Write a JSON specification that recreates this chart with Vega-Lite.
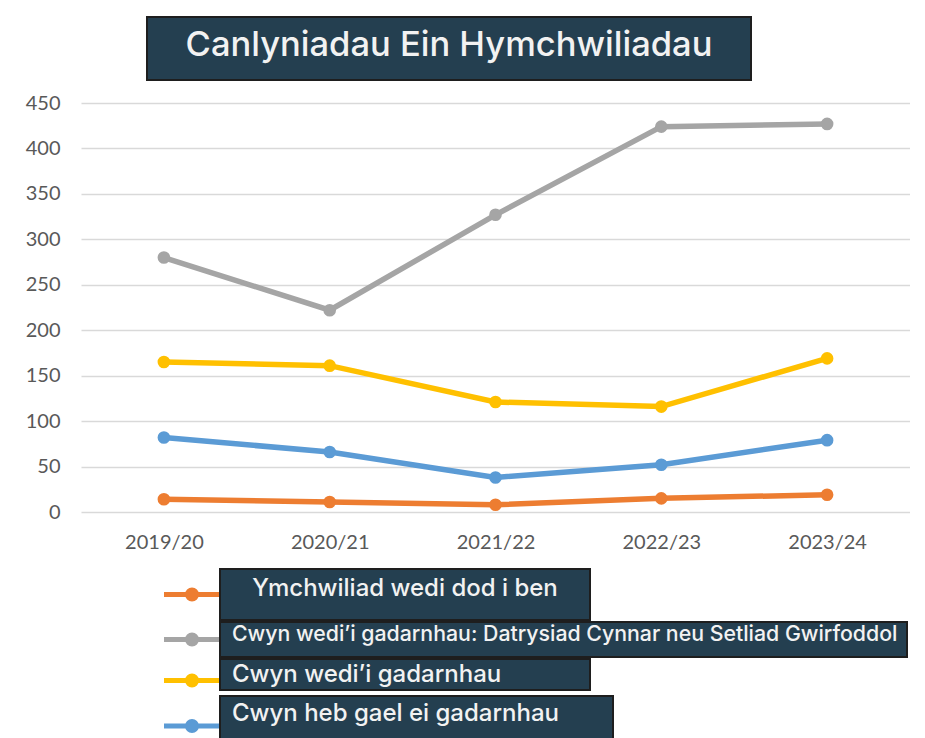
{
  "$schema": "https://vega.github.io/schema/vega-lite/v6.json",
  "background": "white",
  "padding": {"left": 25, "top": 16, "right": 0, "bottom": 0},
  "config": {
    "view": {"stroke": null},
    "font": "Inter"
  },
  "spacing": 0,
  "vconcat": [
    {
      "spacing": 0,
      "bounds": "flush",
      "hconcat": [
        {
          "width": 66, "height": 63,
          "data": {"values": [{"label": ""}]},
          "mark": {"type": "text"},
          "encoding": {"text": {"field": "label"}}
        },
        {
          "width": 604, "height": 63,
          "view": {"fill": "#243F50", "stroke": "#1E1E1E", "strokeWidth": 2},
          "data": {"values": [{"label": "Canlyniadau Ein Hymchwiliadau"}]},
          "mark": {"type": "text", "font": "Inter", "fontSize": 34.5, "fontWeight": 500, "color": "#F2F2F2", "baseline": "alphabetic", "align": "center", "dy": 7},
          "encoding": {"text": {"field": "label"}}
        }
      ]
    },
    {
      "width": 1, "height": 12,
      "data": {"values": [{"label": ""}]},
      "mark": {"type": "text"},
      "encoding": {"text": {"field": "label"}}
    },
    {
      "width": 829,
      "height": 409,
      "data": {
        "values": [
          {"year": "2019/20", "series": "Ymchwiliad wedi dod i ben", "value": 14},
          {"year": "2020/21", "series": "Ymchwiliad wedi dod i ben", "value": 11},
          {"year": "2021/22", "series": "Ymchwiliad wedi dod i ben", "value": 8},
          {"year": "2022/23", "series": "Ymchwiliad wedi dod i ben", "value": 15},
          {"year": "2023/24", "series": "Ymchwiliad wedi dod i ben", "value": 19},
          {"year": "2019/20", "series": "Cwyn wedi’i gadarnhau: Datrysiad Cynnar neu Setliad Gwirfoddol", "value": 280},
          {"year": "2020/21", "series": "Cwyn wedi’i gadarnhau: Datrysiad Cynnar neu Setliad Gwirfoddol", "value": 222},
          {"year": "2021/22", "series": "Cwyn wedi’i gadarnhau: Datrysiad Cynnar neu Setliad Gwirfoddol", "value": 327},
          {"year": "2022/23", "series": "Cwyn wedi’i gadarnhau: Datrysiad Cynnar neu Setliad Gwirfoddol", "value": 424},
          {"year": "2023/24", "series": "Cwyn wedi’i gadarnhau: Datrysiad Cynnar neu Setliad Gwirfoddol", "value": 427},
          {"year": "2019/20", "series": "Cwyn wedi’i gadarnhau", "value": 165},
          {"year": "2020/21", "series": "Cwyn wedi’i gadarnhau", "value": 161},
          {"year": "2021/22", "series": "Cwyn wedi’i gadarnhau", "value": 121},
          {"year": "2022/23", "series": "Cwyn wedi’i gadarnhau", "value": 116},
          {"year": "2023/24", "series": "Cwyn wedi’i gadarnhau", "value": 169},
          {"year": "2019/20", "series": "Cwyn heb gael ei gadarnhau", "value": 82},
          {"year": "2020/21", "series": "Cwyn heb gael ei gadarnhau", "value": 66},
          {"year": "2021/22", "series": "Cwyn heb gael ei gadarnhau", "value": 38},
          {"year": "2022/23", "series": "Cwyn heb gael ei gadarnhau", "value": 52},
          {"year": "2023/24", "series": "Cwyn heb gael ei gadarnhau", "value": 79}
        ]
      },
      "mark": {"type": "line", "strokeWidth": 5.5, "point": {"filled": true, "size": 160}},
      "encoding": {
        "x": {
          "field": "year", "type": "ordinal",
          "scale": {"type": "point", "padding": 0.5},
          "axis": {"title": null, "domain": false, "ticks": false, "grid": false, "labelAngle": 0,
                   "labelFont": "Lato", "labelFontSize": 20, "labelColor": "#595959", "labelPadding": 20}
        },
        "y": {
          "field": "value", "type": "quantitative",
          "scale": {"domain": [0, 450], "nice": false},
          "axis": {"title": null, "domain": false, "ticks": false,
                   "values": [0, 50, 100, 150, 200, 250, 300, 350, 400, 450],
                   "gridColor": "#D9D9D9", "gridWidth": 1.5,
                   "labelFont": "Lato", "labelFontSize": 20, "labelColor": "#595959", "labelPadding": 21}
        },
        "color": {
          "field": "series", "type": "nominal",
          "scale": {
            "domain": ["Ymchwiliad wedi dod i ben", "Cwyn wedi’i gadarnhau: Datrysiad Cynnar neu Setliad Gwirfoddol", "Cwyn wedi’i gadarnhau", "Cwyn heb gael ei gadarnhau"],
            "range": ["#ED7D31", "#A5A5A5", "#FFC000", "#5B9BD5"]
          },
          "legend": null
        }
      }
    },
    {
      "width": 1, "height": 16,
      "data": {"values": [{"label": ""}]},
      "mark": {"type": "text"},
      "encoding": {"text": {"field": "label"}}
    },
    {
      "spacing": 0, "bounds": "flush",
      "hconcat": [
        {"width": 83, "height": 51, "data": {"values": [{"label": ""}]}, "mark": {"type": "text"}, "encoding": {"text": {"field": "label"}}},
        {"width": 56, "height": 51, "data": {"values": [{"series": "Ymchwiliad wedi dod i ben"}]},
         "mark": {"type": "point", "filled": true, "size": 3136, "strokeWidth": 5, "opacity": 1, "yOffset": 0,
                  "shape": "M-1,0L1,0M-0.16,0A0.16,0.16,0,1,1,0.16,0A0.16,0.16,0,1,1,-0.16,0Z"},
         "encoding": {
           "fill": {"field": "series", "type": "nominal", "scale": {"domain": ["Ymchwiliad wedi dod i ben", "Cwyn wedi’i gadarnhau: Datrysiad Cynnar neu Setliad Gwirfoddol", "Cwyn wedi’i gadarnhau", "Cwyn heb gael ei gadarnhau"], "range": ["#ED7D31", "#A5A5A5", "#FFC000", "#5B9BD5"]}, "legend": null},
           "stroke": {"field": "series", "type": "nominal", "scale": {"domain": ["Ymchwiliad wedi dod i ben", "Cwyn wedi’i gadarnhau: Datrysiad Cynnar neu Setliad Gwirfoddol", "Cwyn wedi’i gadarnhau", "Cwyn heb gael ei gadarnhau"], "range": ["#ED7D31", "#A5A5A5", "#FFC000", "#5B9BD5"]}, "legend": null}
         }},
        {"width": 370, "height": 51,
         "view": {"fill": "#243F50", "stroke": "#1E1E1E", "strokeWidth": 2},
         "data": {"values": [{"series": "Ymchwiliad wedi dod i ben"}]},
         "mark": {"type": "text", "fontSize": 24, "fontWeight": 500, "color": "#F2F2F2", "align": "center", "baseline": "alphabetic", "dy": 1},
         "encoding": {"text": {"field": "series"}}}
      ]
    },
    {
      "spacing": 0, "bounds": "flush",
      "hconcat": [
        {"width": 83, "height": 35, "data": {"values": [{"label": ""}]}, "mark": {"type": "text"}, "encoding": {"text": {"field": "label"}}},
        {"width": 56, "height": 35, "data": {"values": [{"series": "Cwyn wedi’i gadarnhau: Datrysiad Cynnar neu Setliad Gwirfoddol"}]},
         "mark": {"type": "point", "filled": true, "size": 3136, "strokeWidth": 5, "opacity": 1, "yOffset": 0,
                  "shape": "M-1,0L1,0M-0.16,0A0.16,0.16,0,1,1,0.16,0A0.16,0.16,0,1,1,-0.16,0Z"},
         "encoding": {
           "fill": {"field": "series", "type": "nominal", "scale": {"domain": ["Ymchwiliad wedi dod i ben", "Cwyn wedi’i gadarnhau: Datrysiad Cynnar neu Setliad Gwirfoddol", "Cwyn wedi’i gadarnhau", "Cwyn heb gael ei gadarnhau"], "range": ["#ED7D31", "#A5A5A5", "#FFC000", "#5B9BD5"]}, "legend": null},
           "stroke": {"field": "series", "type": "nominal", "scale": {"domain": ["Ymchwiliad wedi dod i ben", "Cwyn wedi’i gadarnhau: Datrysiad Cynnar neu Setliad Gwirfoddol", "Cwyn wedi’i gadarnhau", "Cwyn heb gael ei gadarnhau"], "range": ["#ED7D31", "#A5A5A5", "#FFC000", "#5B9BD5"]}, "legend": null}
         }},
        {"width": 687, "height": 35,
         "view": {"fill": "#243F50", "stroke": "#1E1E1E", "strokeWidth": 2},
         "data": {"values": [{"series": "Cwyn wedi’i gadarnhau: Datrysiad Cynnar neu Setliad Gwirfoddol"}]},
         "mark": {"type": "text", "fontSize": 21.3, "fontWeight": 500, "color": "#F2F2F2", "align": "left", "x": 12, "baseline": "alphabetic", "dy": 1},
         "encoding": {"text": {"field": "series"}}}
      ]
    },
    {
      "spacing": 0, "bounds": "flush",
      "hconcat": [
        {"width": 83, "height": 31, "data": {"values": [{"label": ""}]}, "mark": {"type": "text"}, "encoding": {"text": {"field": "label"}}},
        {"width": 56, "height": 31, "data": {"values": [{"series": "Cwyn wedi’i gadarnhau"}]},
         "mark": {"type": "point", "filled": true, "size": 3136, "strokeWidth": 5, "opacity": 1, "yOffset": 6,
                  "shape": "M-1,0L1,0M-0.16,0A0.16,0.16,0,1,1,0.16,0A0.16,0.16,0,1,1,-0.16,0Z"},
         "encoding": {
           "fill": {"field": "series", "type": "nominal", "scale": {"domain": ["Ymchwiliad wedi dod i ben", "Cwyn wedi’i gadarnhau: Datrysiad Cynnar neu Setliad Gwirfoddol", "Cwyn wedi’i gadarnhau", "Cwyn heb gael ei gadarnhau"], "range": ["#ED7D31", "#A5A5A5", "#FFC000", "#5B9BD5"]}, "legend": null},
           "stroke": {"field": "series", "type": "nominal", "scale": {"domain": ["Ymchwiliad wedi dod i ben", "Cwyn wedi’i gadarnhau: Datrysiad Cynnar neu Setliad Gwirfoddol", "Cwyn wedi’i gadarnhau", "Cwyn heb gael ei gadarnhau"], "range": ["#ED7D31", "#A5A5A5", "#FFC000", "#5B9BD5"]}, "legend": null}
         }},
        {"width": 370, "height": 31,
         "view": {"fill": "#243F50", "stroke": "#1E1E1E", "strokeWidth": 2},
         "data": {"values": [{"series": "Cwyn wedi’i gadarnhau"}]},
         "mark": {"type": "text", "fontSize": 24, "fontWeight": 500, "color": "#F2F2F2", "align": "left", "x": 12, "baseline": "alphabetic", "dy": 7},
         "encoding": {"text": {"field": "series"}}}
      ]
    },
    {
      "spacing": 0, "bounds": "flush",
      "hconcat": [
        {"width": 83, "height": 46, "data": {"values": [{"label": ""}]}, "mark": {"type": "text"}, "encoding": {"text": {"field": "label"}}},
        {"width": 56, "height": 46, "data": {"values": [{"series": "Cwyn heb gael ei gadarnhau"}]},
         "mark": {"type": "point", "filled": true, "size": 3136, "strokeWidth": 5, "opacity": 1, "yOffset": 7,
                  "shape": "M-1,0L1,0M-0.16,0A0.16,0.16,0,1,1,0.16,0A0.16,0.16,0,1,1,-0.16,0Z"},
         "encoding": {
           "fill": {"field": "series", "type": "nominal", "scale": {"domain": ["Ymchwiliad wedi dod i ben", "Cwyn wedi’i gadarnhau: Datrysiad Cynnar neu Setliad Gwirfoddol", "Cwyn wedi’i gadarnhau", "Cwyn heb gael ei gadarnhau"], "range": ["#ED7D31", "#A5A5A5", "#FFC000", "#5B9BD5"]}, "legend": null},
           "stroke": {"field": "series", "type": "nominal", "scale": {"domain": ["Ymchwiliad wedi dod i ben", "Cwyn wedi’i gadarnhau: Datrysiad Cynnar neu Setliad Gwirfoddol", "Cwyn wedi’i gadarnhau", "Cwyn heb gael ei gadarnhau"], "range": ["#ED7D31", "#A5A5A5", "#FFC000", "#5B9BD5"]}, "legend": null}
         }},
        {"width": 393, "height": 46,
         "view": {"fill": "#243F50", "stroke": "#1E1E1E", "strokeWidth": 2},
         "data": {"values": [{"series": "Cwyn heb gael ei gadarnhau"}]},
         "mark": {"type": "text", "fontSize": 24, "fontWeight": 500, "color": "#F2F2F2", "align": "left", "x": 12, "baseline": "alphabetic", "dy": 2},
         "encoding": {"text": {"field": "series"}}}
      ]
    }
  ]
}
